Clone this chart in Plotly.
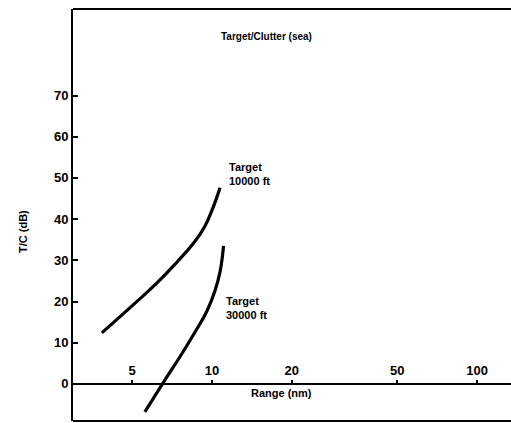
import plotly.graph_objects as go

# Data
range_10k = [3.84, 5.04, 6.20, 7.38, 8.48, 9.33, 10.0, 10.44, 10.72]
tc_10k = [12.4, 19.2, 24.5, 29.6, 34.0, 37.9, 42.2, 45.4, 47.6]

range_30k = [5.58, 6.53, 7.57, 8.63, 9.57, 10.26, 10.72, 10.95, 11.05]
tc_30k = [-6.8, 0.2, 6.6, 12.6, 17.7, 22.6, 27.2, 31.1, 33.5]

x_ticks = [5, 10, 20, 50, 100]
y_ticks = [0, 10, 20, 30, 40, 50, 60, 70]

FONT = "Liberation Sans, Arial, sans-serif"

fig = go.Figure()
for xs, ys in [(range_10k, tc_10k), (range_30k, tc_30k)]:
    fig.add_trace(go.Scatter(x=xs, y=ys, mode="lines",
                             line=dict(color="black", width=3.2, shape="spline", smoothing=1.3),
                             showlegend=False, hoverinfo="skip"))

fig.update_layout(
    width=511, height=423,
    margin=dict(l=73, r=0, t=9, b=2),
    paper_bgcolor="white", plot_bgcolor="white",
    font=dict(family=FONT, color="black", size=12),
    xaxis=dict(type="log", range=[0.4755, 2.128], anchor="free", position=0.09, side="top",
               tickvals=x_ticks, ticktext=[f"<b>{v}</b>" for v in x_ticks],
               ticks="outside", ticklen=3, tickwidth=2, tickcolor="black",
               showline=True, linewidth=2, linecolor="black", showgrid=False, zeroline=False,
               tickfont=dict(size=13)),
    yaxis=dict(range=[-9, 91], tickvals=y_ticks, ticktext=[f"<b>{v}</b>" for v in y_ticks],
               ticks="inside", ticklen=5, tickwidth=2, tickcolor="black",
               showline=True, linewidth=2, linecolor="black", showgrid=False, zeroline=False,
               tickfont=dict(size=13)),
    shapes=[
        dict(type="line", xref="paper", yref="paper", x0=0, x1=1, y0=1, y1=1,
             line=dict(color="black", width=2)),
        dict(type="line", xref="paper", yref="paper", x0=0, x1=1, y0=0, y1=0,
             line=dict(color="black", width=2)),
    ],
    annotations=[
        dict(text="<b>Target/Clutter (sea)</b>", xref="paper", yref="paper",
             x=(266 - 73) / 438, y=(421 - 29) / 412, showarrow=False, font=dict(size=10)),
        dict(text="<b>Range (nm)</b>", xref="paper", yref="paper",
             x=(281 - 73) / 438, y=(421 - 401) / 412, showarrow=False, font=dict(size=11)),
        dict(text="<b>T/C (dB)</b>", xref="paper", yref="paper", textangle=-90,
             x=(15 - 73) / 438, y=(421 - 232) / 412, showarrow=False, font=dict(size=11)),
        dict(text="<b>Target<br>10000 ft</b>", x=1.058, y=51.0, xref="x", yref="y",
             xanchor="left", align="left", showarrow=False, font=dict(size=11)),
        dict(text="<b>Target<br>30000 ft</b>", x=1.047, y=18.4, xref="x", yref="y",
             xanchor="left", align="left", showarrow=False, font=dict(size=11)),
    ],
)

fig.write_html("out.html")
